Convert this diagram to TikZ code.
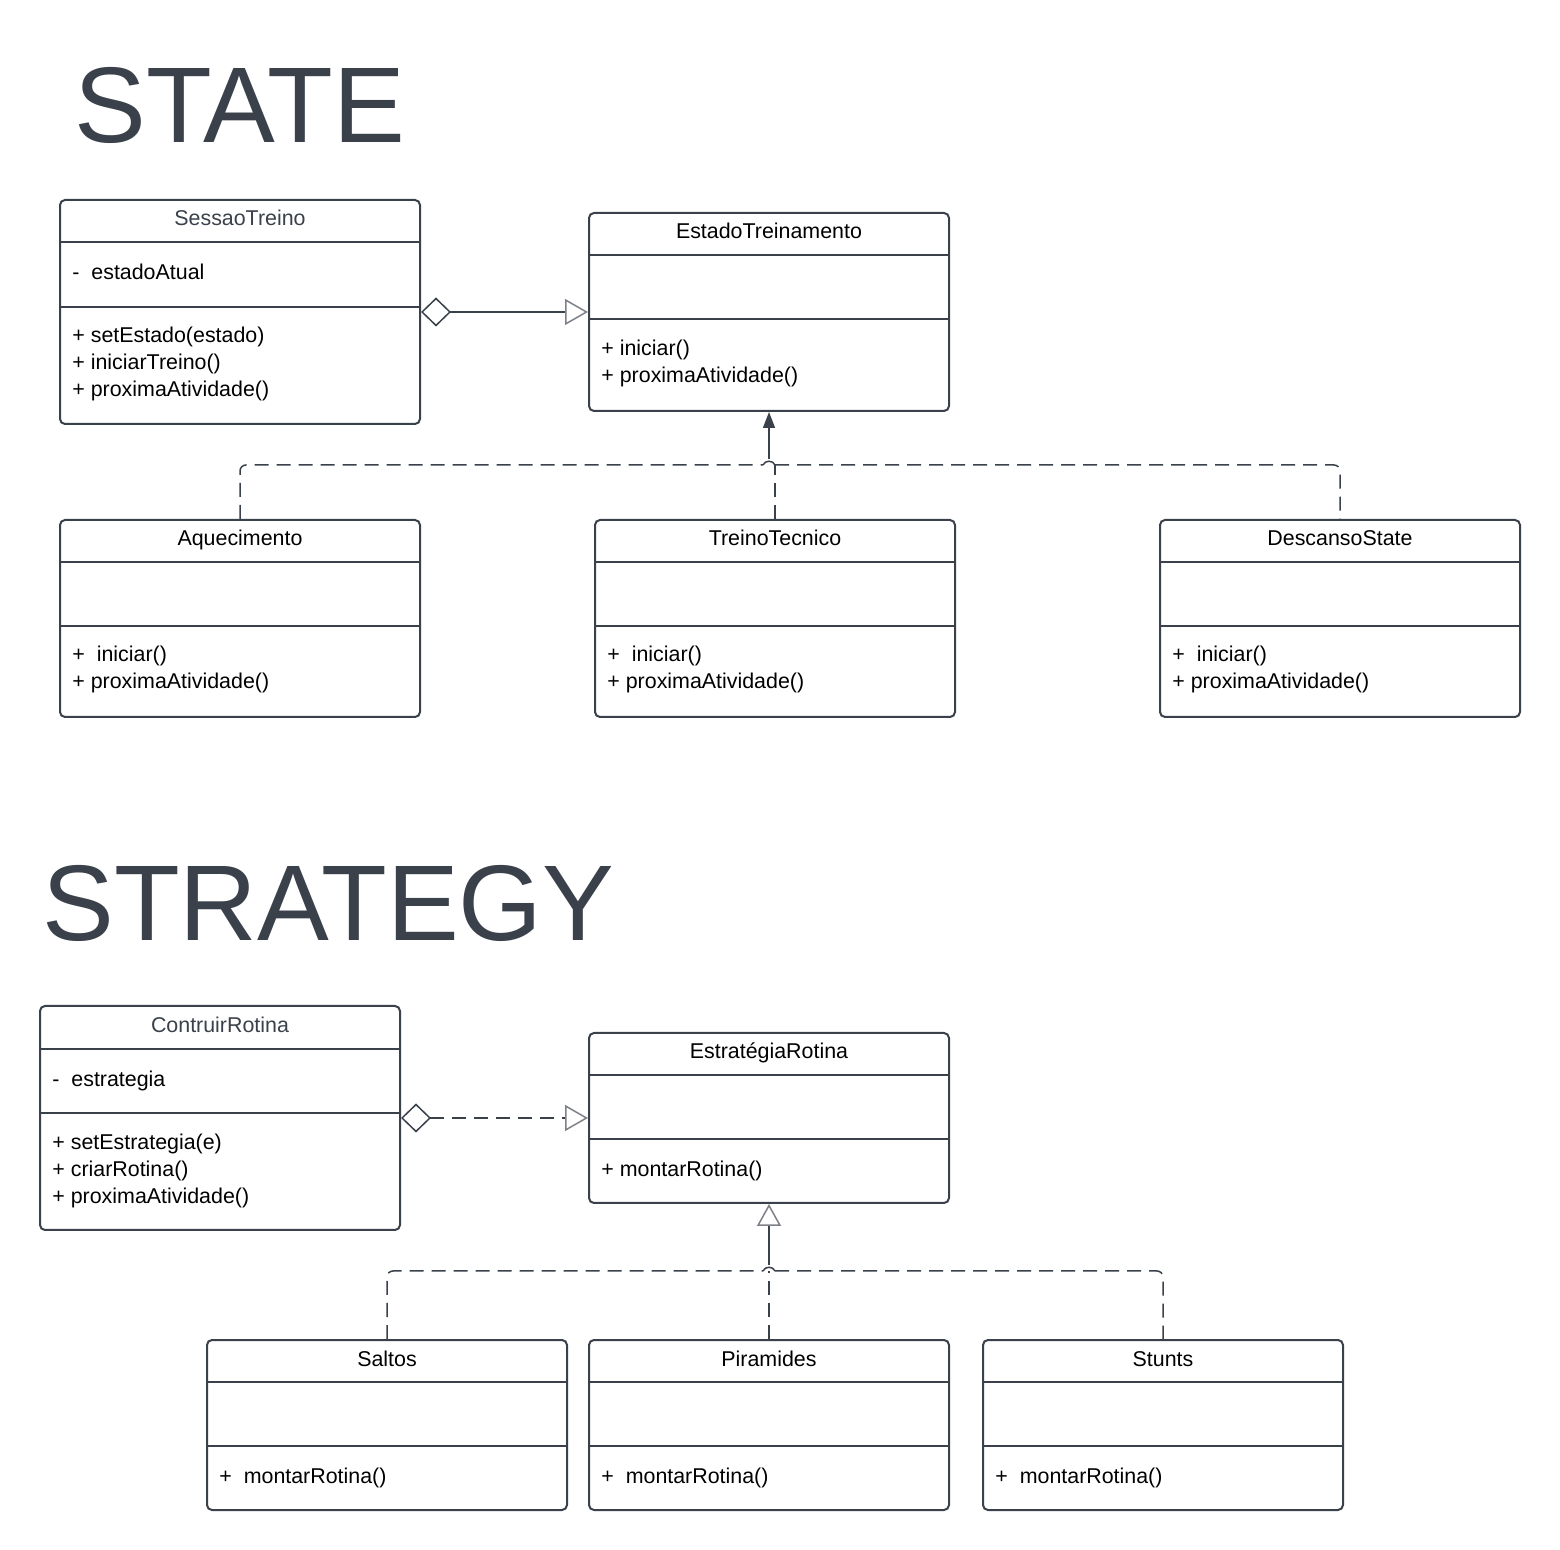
\documentclass[tikz,border=0pt]{standalone}
\usepackage{fontspec}
\setmainfont{Liberation Sans}
\usetikzlibrary{arrows.meta,fit}
\definecolor{ink}{RGB}{58,65,74}
\definecolor{tipgray}{RGB}{125,129,136}
\newcommand\umlclass[8]{%
  \node[classbox, fit={(#2,#3) (#4,#5)}] (#1) {};
  \draw[divider] (#1.west |- 0,#6) -- (#1.east |- 0,#6);
  \draw[divider] (#1.west |- 0,#7) -- (#1.east |- 0,#7);
  \node[headtext] (#1-t) at ({(#2+#4)/2},{(#3+#6)/2+5}) {#8};
}
\newcommand\member[4]{\node[membertext] (#1) at (#2,#3) {#4};}
\begin{document}
\begin{tikzpicture}[x=0.5pt,y=-0.5pt,
  classbox/.style={draw=ink, line width=1pt, rounded corners=2.5pt, inner sep=0pt, fill=white},
  divider/.style={draw=ink, line width=1pt},
  headtext/.style={anchor=base, font=\fontsize{10.7}{12}\selectfont, text=black, inner sep=0pt},
  membertext/.style={anchor=base west, font=\fontsize{10.7}{12}\selectfont, text=black, inner sep=0pt},
  bigtitle/.style={anchor=base west, font=\fontsize{53.8}{60}\selectfont, text=ink, inner sep=0pt},
  conn/.style={draw=ink, line width=0.75pt},
  dashconn/.style={conn, dash pattern=on 7pt off 4pt},
  agg/.style={{Diamond[open,length=15pt,width=14.5pt]}-{Triangle[open,length=11.5pt,width=13pt,color=tipgray]}},
]
\path[use as bounding box, fill=white] (0,0) rectangle (1560,1550);

% titles
\node[bigtitle] (t1) at (74,143) {STATE};
\node[bigtitle] (t2) at (42,941) {STRATEGY};

% ---------- STATE ----------
\umlclass{st}{60}{200}{420}{424}{242}{307}{\textcolor{ink}{SessaoTreino}}
\member{st1}{72}{280}{-\ \ estadoAtual}
\member{st2}{72}{343}{+ setEstado(estado)}
\member{st3}{72}{370}{+ iniciarTreino()}
\member{st4}{72}{397}{+ proximaAtividade()}

\umlclass{et}{589}{213}{949}{411}{255}{319}{EstadoTreinamento}
\member{et1}{601}{356}{+ iniciar()}
\member{et2}{601}{383}{+ proximaAtividade()}

\umlclass{aq}{60}{520}{420}{717}{562}{626}{Aquecimento}
\member{aq1}{72}{662}{+\ \ iniciar()}
\member{aq2}{72}{689}{+ proximaAtividade()}

\umlclass{tt}{595}{520}{955}{717}{562}{626}{TreinoTecnico}
\member{tt1}{607}{662}{+\ \ iniciar()}
\member{tt2}{607}{689}{+ proximaAtividade()}

\umlclass{ds}{1160}{520}{1520}{717}{562}{626}{DescansoState}
\member{ds1}{1172}{662}{+\ \ iniciar()}
\member{ds2}{1172}{689}{+ proximaAtividade()}

% aggregation
\draw[conn, agg] (st.east |- 0,312) -- (et.west |- 0,312);

% realization tree
\coordinate (shl) at (763,465);
\coordinate (shr) at (775,465);
\coordinate (sht) at (769,459);
\draw[dashconn, rounded corners=3pt] (aq.north) |- (shl);
\draw[conn] (shl) .. controls (765,460) and (773,460) .. (shr);
\draw[dashconn, rounded corners=3pt] (shr) -| (ds.north);
\draw[dashconn] (tt.north) -- (tt.north |- shr);
\draw[conn, -{Triangle[length=8pt,width=6pt]}] (sht) -- (et.south);

% ---------- STRATEGY ----------
\umlclass{cr}{40}{1006}{400}{1230}{1049}{1113}{\textcolor{ink}{ContruirRotina}}
\member{cr1}{52}{1087}{-\ \ estrategia}
\member{cr2}{52}{1150}{+ setEstrategia(e)}
\member{cr3}{52}{1177}{+ criarRotina()}
\member{cr4}{52}{1204}{+ proximaAtividade()}

\umlclass{er}{589}{1033}{949}{1203}{1075}{1139}{EstratégiaRotina}
\member{er1}{601}{1177}{+ montarRotina()}

\umlclass{sa}{207}{1340}{567}{1510}{1382}{1446}{Saltos}
\member{sa1}{219}{1483}{+\ \ montarRotina()}

\umlclass{pi}{589}{1340}{949}{1510}{1382}{1446}{Piramides}
\member{pi1}{601}{1483}{+\ \ montarRotina()}

\umlclass{su}{983}{1340}{1343}{1510}{1382}{1446}{Stunts}
\member{su1}{995}{1483}{+\ \ montarRotina()}

\draw[dashconn, agg] (cr.east |- 0,1118) -- (er.west |- 0,1118);

\coordinate (ghl) at (763,1271);
\coordinate (ghr) at (775,1271);
\coordinate (ghm) at (769,1271);
\coordinate (ght) at (769,1265);
\draw[dashconn, rounded corners=3pt] (sa.north) |- (ghl);
\draw[conn] (ghl) .. controls (765,1266) and (773,1266) .. (ghr);
\draw[dashconn, rounded corners=3pt] (ghr) -| (su.north);
\draw[dashconn] (pi.north) -- (ghm);
\draw[conn, -{Triangle[open,length=11pt,width=12pt,color=tipgray]}] (ght) -- (er.south);
\end{tikzpicture}
\end{document}
